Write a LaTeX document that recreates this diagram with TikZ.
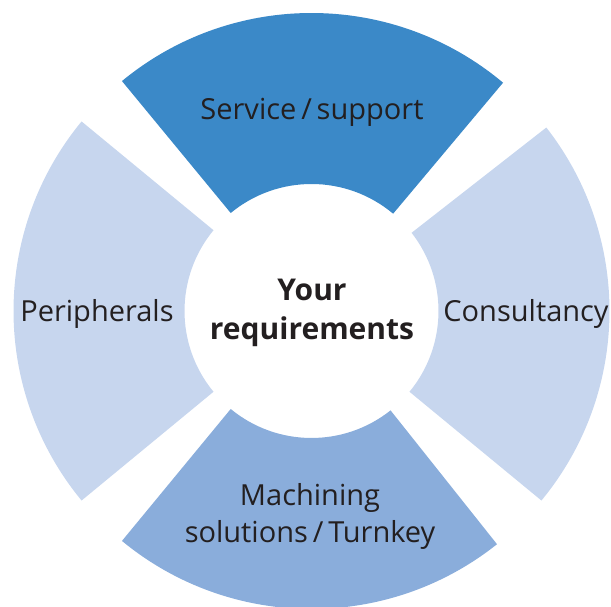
\documentclass[tikz,border=0pt]{standalone}
\usepackage{fontspec}
\setmainfont{Open Sans}
\definecolor{segdark}{HTML}{3B89C8}
\definecolor{seglight}{HTML}{C7D6EE}
\definecolor{segmid}{HTML}{8AADDB}
\definecolor{txtgray}{HTML}{231F20}
\newcommand\ringseg[3]{%
  \fill[#1] ([shift={(c)}]#2:298) arc[start angle=#2, end angle=#3, radius=298]
    -- ([shift={(c)}]#3:127) arc[start angle=#3, end angle=#2, radius=127] -- cycle;}
\begin{document}
\begin{tikzpicture}[x=1pt,y=1pt,
  lbl/.style={text=txtgray, font=\fontsize{29}{37}\selectfont, align=center, inner sep=0pt, anchor=base},
  blbl/.style={lbl, font=\fontsize{30}{39}\selectfont\bfseries}]
\useasboundingbox (0,0) rectangle (611,607);
\coordinate (c) at (311.5,296);
\ringseg{segdark}{50}{129.5}
\ringseg{seglight}{140.5}{219.5}
\ringseg{segmid}{230.5}{308.5}
\ringseg{seglight}{-39.5}{38}
\node[lbl] (service) at (312,487) {Service\,/\,support};
\node[lbl] (periph) at (97,285) {Peripherals};
\node[lbl] (consult) at (526,285) {Consultancy};
\node[lbl] (machining) at (310,64) {Machining\\solutions\,/\,Turnkey};
\node[blbl] (req) at (312,267) {Your\\requirements};
\end{tikzpicture}
\end{document}
